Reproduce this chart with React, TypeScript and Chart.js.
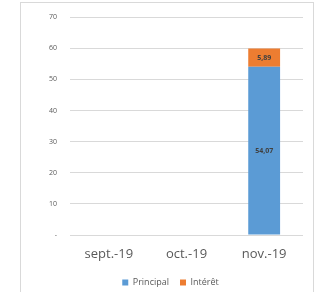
import React, { useEffect, useRef } from "react";
import { Chart, registerables } from "chart.js";

Chart.register(...registerables);

const categories = ["sept.-19", "oct.-19", "nov.-19"];
const principal = [0, 0, 54.07];
const interet = [0, 0, 5.89];
const seriesNames = ["Principal", "Intérêt"];
const yMin = 0;
const yMax = 70;
const yStep = 10;

const FONT = "'Open Sans', 'Noto Sans', sans-serif";

const dataLabelPlugin = {
  id: "dataLabels",
  afterDatasetsDraw(chart: any) {
    const ctx = chart.ctx;
    ctx.save();
    ctx.font = `bold 7px ${FONT}`;
    ctx.fillStyle = "#404040";
    ctx.textAlign = "center";
    ctx.textBaseline = "middle";
    chart.data.datasets.forEach((ds: any, di: number) => {
      const meta = chart.getDatasetMeta(di);
      meta.data.forEach((bar: any, i: number) => {
        const v = ds.data[i];
        if (!v) return;
        const yc = (bar.y + bar.base) / 2;
        ctx.fillText(v.toFixed(2).replace(".", ","), bar.x, yc);
      });
    });
    ctx.restore();
  },
};

export default function App() {
  const ref = useRef<HTMLCanvasElement | null>(null);
  useEffect(() => {
    if (!ref.current) return;
    const chart = new Chart(ref.current, {
      type: "bar",
      data: {
        labels: categories,
        datasets: [
          {
            label: seriesNames[0],
            data: principal,
            backgroundColor: "#5B9BD5",
            borderWidth: 0,
            categoryPercentage: 1,
            barPercentage: 0.41,
          },
          {
            label: seriesNames[1],
            data: interet,
            backgroundColor: "#ED7D31",
            borderWidth: 0,
            categoryPercentage: 1,
            barPercentage: 0.41,
          },
        ],
      },
      options: {
        responsive: false,
        animation: false,
        maintainAspectRatio: false,
        layout: { padding: { left: 38, right: 16, top: 17, bottom: -5 } },
        plugins: {
          tooltip: { enabled: false },
          legend: {
            position: "bottom",
            labels: {
              boxWidth: 6,
              boxHeight: 6,
              padding: 11,
              color: "#595959",
              font: { size: 9, family: FONT },
            },
          },
        },
        scales: {
          x: {
            stacked: true,
            grid: { display: false, drawTicks: false },
            border: { display: false },
            ticks: {
              color: "#595959",
              font: { size: 13, family: FONT },
              padding: 11,
              maxRotation: 0,
            },
            afterFit(scale: any) {
              scale.height = 32;
            },
          },
          y: {
            stacked: true,
            min: yMin,
            max: yMax,
            border: { display: false },
            grid: { color: "#d9d9d9", drawTicks: false },
            ticks: {
              stepSize: yStep,
              color: "#595959",
              padding: 13,
              font: { size: 7, family: FONT },
              callback: (v: any) => (v === 0 ? "-" : String(v)),
            },
            afterFit(scale: any) {
              scale.width = 32;
            },
          },
        },
      },
      plugins: [dataLabelPlugin],
    });
    return () => chart.destroy();
  }, []);
  return (
    <div style={{ position: "absolute", left: 0, top: 0, width: 319, height: 292, background: "#fff" }}>
      <div
        style={{
          position: "absolute",
          left: 20,
          top: 2,
          width: 294,
          height: 292,
          border: "1px solid #d9d9d9",
          boxSizing: "border-box",
        }}
      />
      <canvas ref={ref} width={319} height={292} style={{ position: "absolute", left: 0, top: 0 }} />
    </div>
  );
}
